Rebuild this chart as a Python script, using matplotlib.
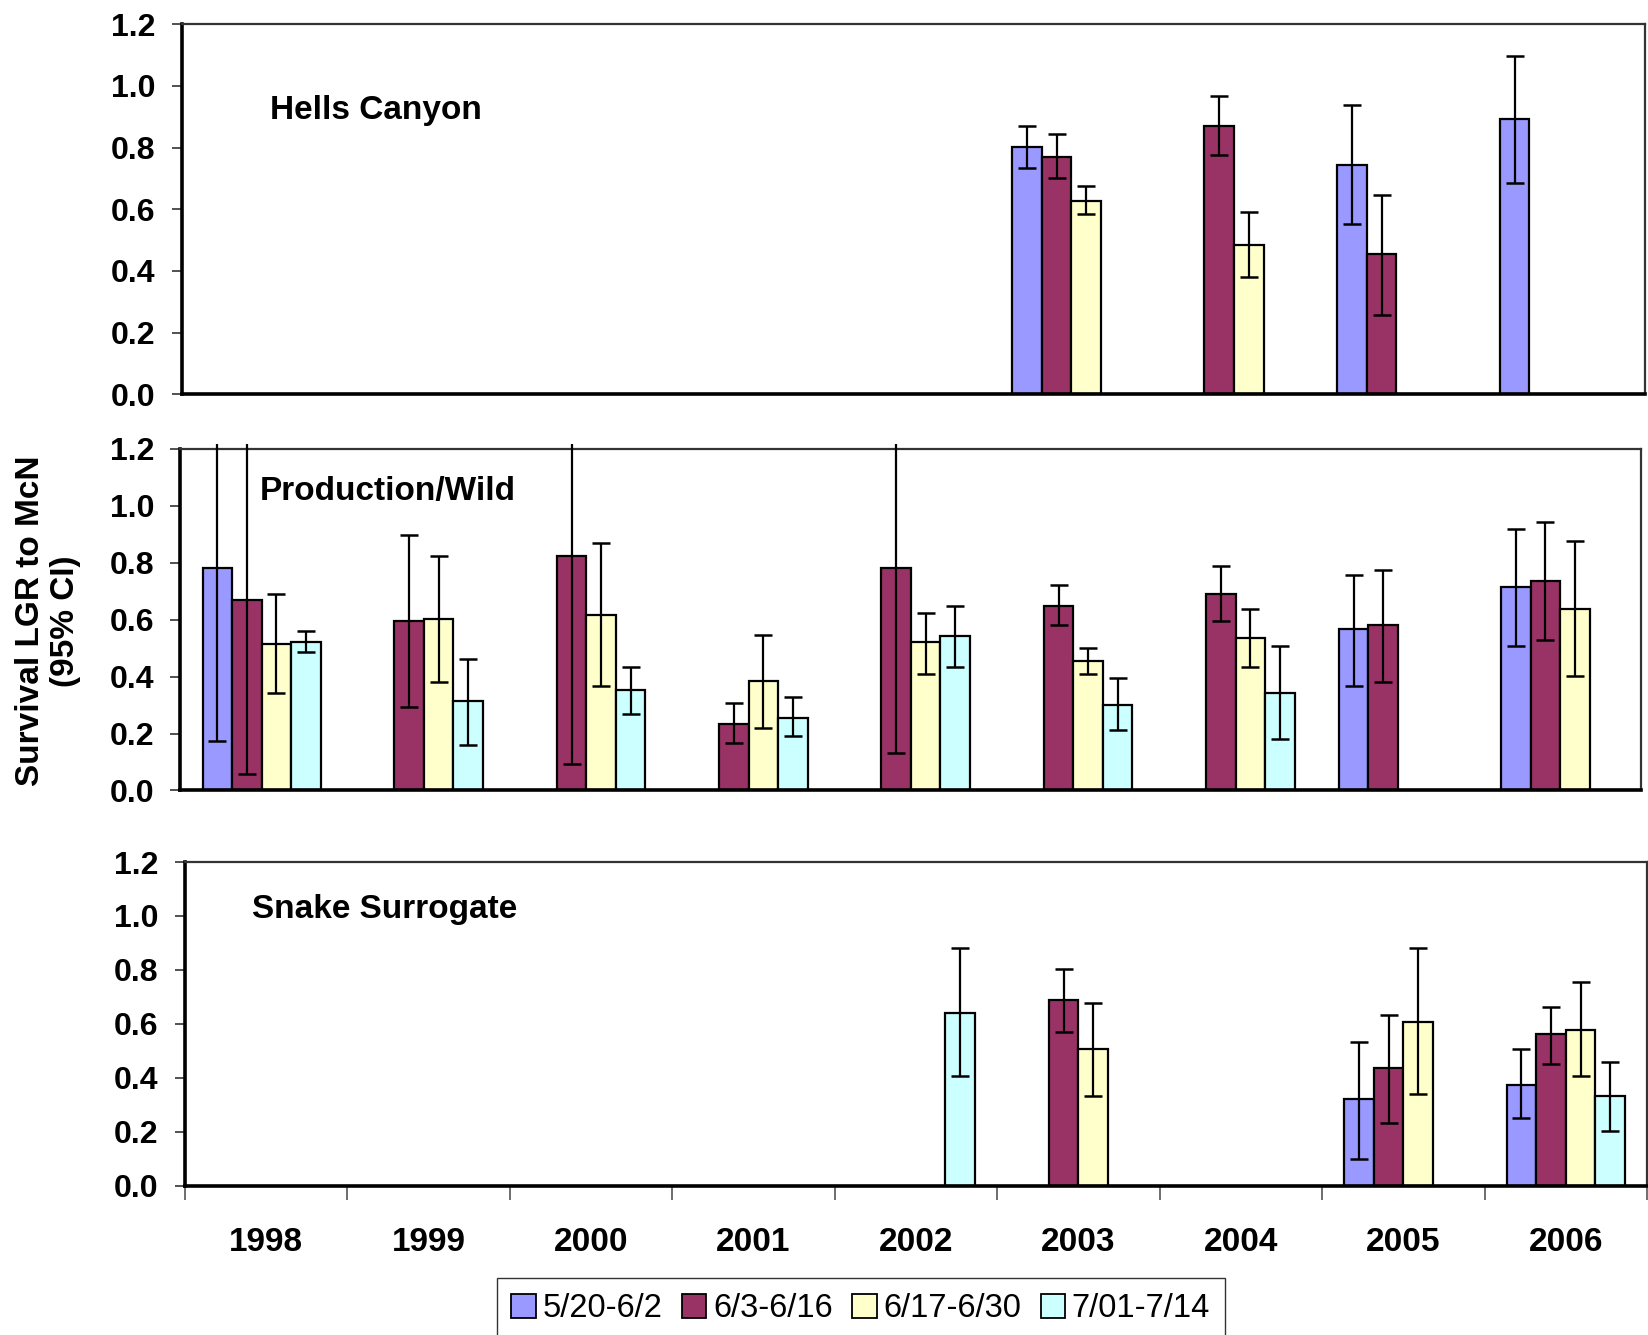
import numpy as np
import matplotlib
matplotlib.use("Agg")
import matplotlib.pyplot as plt
from matplotlib.patches import Patch
from matplotlib.transforms import Bbox, TransformedBbox

nan = np.nan

years = ["1998", "1999", "2000", "2001", "2002", "2003", "2004", "2005", "2006"]
periods = ["5/20-6/2", "6/3-6/16", "6/17-6/30", "7/01-7/14"]
colors = ["#9999FF", "#993366", "#FFFFCC", "#CCFFFF"]

# Hells Canyon: survival estimate and 95% CI per release period (rows) and year (columns)
hc_est = [
    [nan, nan, nan, nan, nan, 0.803, nan, 0.743, 0.892],
    [nan, nan, nan, nan, nan, 0.770, 0.870, 0.456, nan],
    [nan, nan, nan, nan, nan, 0.627, 0.483, nan, nan],
    [nan, nan, nan, nan, nan, nan, nan, nan, nan],
]
hc_lo = [
    [nan, nan, nan, nan, nan, 0.735, nan, 0.551, 0.686],
    [nan, nan, nan, nan, nan, 0.700, 0.776, 0.257, nan],
    [nan, nan, nan, nan, nan, 0.586, 0.381, nan, nan],
    [nan, nan, nan, nan, nan, nan, nan, nan, nan],
]
hc_hi = [
    [nan, nan, nan, nan, nan, 0.870, nan, 0.939, 1.097],
    [nan, nan, nan, nan, nan, 0.843, 0.966, 0.646, nan],
    [nan, nan, nan, nan, nan, 0.675, 0.591, nan, nan],
    [nan, nan, nan, nan, nan, nan, nan, nan, nan],
]

# Production/Wild
pw_est = [
    [0.781, nan, nan, nan, nan, nan, nan, 0.566, 0.714],
    [0.669, 0.595, 0.824, 0.233, 0.781, 0.648, 0.691, 0.581, 0.735],
    [0.514, 0.602, 0.618, 0.383, 0.521, 0.456, 0.536, nan, 0.639],
    [0.521, 0.315, 0.352, 0.256, 0.544, 0.300, 0.344, nan, nan],
]
pw_lo = [
    [0.173, nan, nan, nan, nan, nan, nan, 0.367, 0.506],
    [0.059, 0.293, 0.094, 0.166, 0.131, 0.581, 0.595, 0.382, 0.528],
    [0.343, 0.381, 0.367, 0.219, 0.410, 0.410, 0.432, nan, 0.403],
    [0.485, 0.160, 0.270, 0.190, 0.432, 0.212, 0.181, nan, nan],
]
pw_hi = [
    [1.389, nan, nan, nan, nan, nan, nan, 0.758, 0.919],
    [1.279, 0.897, 1.554, 0.307, 1.431, 0.720, 0.787, 0.773, 0.943],
    [0.691, 0.824, 0.868, 0.545, 0.624, 0.499, 0.639, nan, 0.877],
    [0.559, 0.463, 0.432, 0.330, 0.648, 0.396, 0.506, nan, nan],
]

# Snake Surrogate
ss_est = [
    [nan, nan, nan, nan, nan, nan, nan, 0.320, 0.374],
    [nan, nan, nan, nan, nan, 0.687, nan, 0.437, 0.562],
    [nan, nan, nan, nan, nan, 0.507, nan, 0.607, 0.577],
    [nan, nan, nan, nan, 0.641, nan, nan, nan, 0.334],
]
ss_lo = [
    [nan, nan, nan, nan, nan, nan, nan, 0.100, 0.250],
    [nan, nan, nan, nan, nan, 0.569, nan, 0.234, 0.452],
    [nan, nan, nan, nan, nan, 0.334, nan, 0.341, 0.405],
    [nan, nan, nan, nan, 0.405, nan, nan, nan, 0.203],
]
ss_hi = [
    [nan, nan, nan, nan, nan, nan, nan, 0.531, 0.506],
    [nan, nan, nan, nan, nan, 0.803, nan, 0.632, 0.663],
    [nan, nan, nan, nan, nan, 0.677, nan, 0.881, 0.756],
    [nan, nan, nan, nan, 0.882, nan, nan, nan, 0.460],
]

panel_titles = ["Hells Canyon", "Production/Wild", "Snake Surrogate"]
yticks = [0.0, 0.2, 0.4, 0.6, 0.8, 1.0, 1.2]

plt.rcParams["font.family"] = ["Liberation Sans", "DejaVu Sans"]

fig = plt.figure(figsize=(16.48, 13.35), dpi=100)

axes_rects = [
    (0.1103, 0.7047, 0.8877, 0.2772),
    (0.1095, 0.4079, 0.8865, 0.2559),
    (0.1122, 0.1118, 0.8872, 0.2425),
]
x_shift = [0.027, 0.0, 0.0]
title_pos = [(0.060, 0.767), (0.054, 0.874), (0.046, 0.854)]
panels = [(hc_est, hc_lo, hc_hi), (pw_est, pw_lo, pw_hi), (ss_est, ss_lo, ss_hi)]

n_series = len(periods)
bar_w = 1.0 / (n_series + 1.5)
offsets = (np.arange(n_series) - (n_series - 1) / 2) * bar_w
xc = np.arange(len(years))

for i, (rect, (est, lo, hi)) in enumerate(zip(axes_rects, panels)):
    ax = fig.add_axes(rect)
    # error lines may poke slightly above the frame
    clip = TransformedBbox(Bbox([[0, -0.01], [1, 1.015]]), ax.transAxes)
    for k in range(n_series):
        e = np.array(est[k], dtype=float)
        l = np.array(lo[k], dtype=float)
        h = np.array(hi[k], dtype=float)
        m = ~np.isnan(e)
        if not m.any():
            continue
        x = xc[m] + offsets[k]
        ax.bar(x, e[m], width=bar_w, color=colors[k], edgecolor="black",
               linewidth=1.6, zorder=2)
        yerr = np.vstack([e[m] - l[m], h[m] - e[m]])
        eb = ax.errorbar(x, e[m], yerr=yerr, fmt="none", ecolor="black",
                         elinewidth=1.6, capsize=6.5, capthick=1.8, zorder=3)
        for art in list(eb.lines[1]) + list(eb.lines[2]):
            art.set_clip_box(clip)
    ax.set_xlim(-0.5 + x_shift[i], len(years) - 0.5 + x_shift[i])
    ax.set_ylim(0, 1.2)
    ax.set_yticks(yticks)
    ax.set_yticklabels([f"{v:.1f}" for v in yticks], fontsize=23, fontweight="bold")
    ax.tick_params(axis="y", direction="out", length=7, width=1.2, pad=12, color="#333333")
    for side in ("left", "bottom"):
        ax.spines[side].set_linewidth(2.6)
        ax.spines[side].set_color("black")
    for side in ("top", "right"):
        ax.spines[side].set_linewidth(1.6)
        ax.spines[side].set_color("#333333")
    ax.text(title_pos[i][0], title_pos[i][1], panel_titles[i], transform=ax.transAxes,
            fontsize=24, fontweight="bold", ha="left", va="center")
    if i < 2:
        ax.set_xticks([])
    else:
        ax.set_xticks(np.arange(len(years) + 1) - 0.5)
        ax.set_xticklabels([])
        ax.set_xticks(xc, minor=True)
        ax.set_xticklabels(years, minor=True, fontsize=24, fontweight="bold")
        ax.tick_params(axis="x", which="major", direction="out", length=10,
                       width=1.2, color="#555555")
        ax.tick_params(axis="x", which="minor", length=0, pad=30)

fig.text(0.029, 0.535, "Survival LGR to McN\n(95% CI)", rotation=90, ha="center",
         va="center", multialignment="center", fontsize=24, fontweight="bold",
         linespacing=1.15)

handles = [Patch(facecolor=c, edgecolor="black", linewidth=1.3) for c in colors]
leg = fig.legend(handles, periods, loc="upper center", bbox_to_anchor=(0.5223, 0.0425),
                 ncol=4, fontsize=23.5, frameon=True, fancybox=False, edgecolor="black",
                 handlelength=0.75, handleheight=0.75, handletextpad=0.2,
                 columnspacing=0.6, borderpad=0.45, borderaxespad=0)
leg.get_frame().set_linewidth(1.0)

fig.savefig("out.png", dpi=100, facecolor="white")
